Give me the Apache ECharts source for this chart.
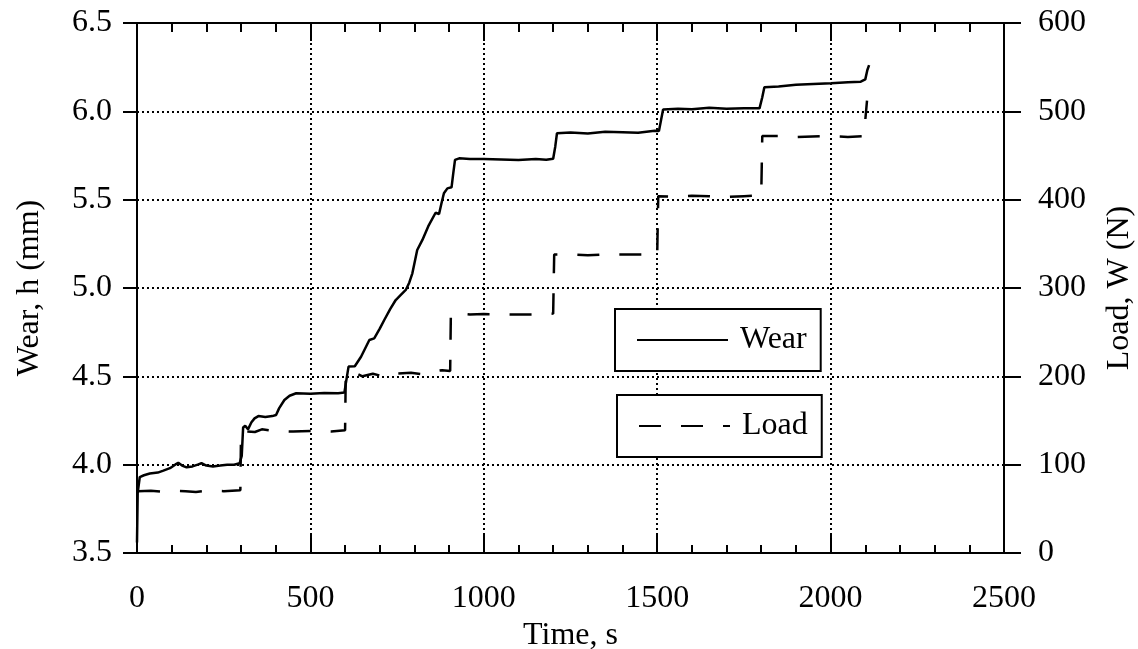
<!DOCTYPE html>
<html>
<head>
<meta charset="utf-8">
<script src="https://cdn.jsdelivr.net/npm/echarts@6/dist/echarts.min.js"></script>
<style>
html,body{margin:0;padding:0;background:#fff;}
#chart{width:1138px;height:649px;}
</style>
</head>
<body>
<div id="chart"></div>
<script>
// Wear, h (mm) vs Time, s
var wearTime = [0,2,8,20,37,60,76,95,110,119,130,143,160,175,186,200,219,240,260,280,296,
  302,306,312,320,330,339,350,370,390,401,410,425,440,459,500,540,580,598,
  603,610,628,646,670,684,700,713,730,746,760,775,785,794,808,823,840,861,871,878,885,895,907,912,917,929,
  960,1000,1050,1100,1150,1180,1200,
  1206,1211,1250,1300,1350,1400,1445,1493,1505,
  1511,1517,1560,1600,1650,1700,1750,1795,
  1803,1809,1850,1900,1950,2001,2050,2087,2100,2106,2111];
var wearValues = [3.56,3.84,3.93,3.94,3.95,3.955,3.966,3.98,4.0,4.011,3.995,3.985,3.99,4.0,4.008,3.995,3.99,3.995,4.0,4.0,4.008,
  4.05,4.21,4.22,4.2,4.24,4.262,4.275,4.27,4.275,4.281,4.32,4.366,4.39,4.404,4.402,4.405,4.404,4.408,
  4.47,4.555,4.557,4.611,4.706,4.715,4.77,4.819,4.88,4.932,4.96,4.989,5.03,5.083,5.215,5.272,5.35,5.426,5.419,5.48,5.536,5.564,5.57,5.65,5.725,5.734,
  5.73,5.73,5.728,5.725,5.73,5.726,5.732,
  5.8,5.876,5.88,5.875,5.885,5.882,5.879,5.89,5.888,
  5.95,6.011,6.015,6.012,6.02,6.015,6.018,6.017,
  6.08,6.136,6.14,6.15,6.155,6.159,6.165,6.168,6.181,6.234,6.262];

// Load, W (N) vs Time, s
var loadTime = [3,40,70,100,140,170,200,250,298,
  300,340,360,400,450,500,560,600,
  602,630,650,680,700,720,750,790,830,860,880,903,
  905,930,960,1000,1100,1150,1200,
  1203,1250,1300,1350,1400,1500,
  1503,1560,1600,1650,1700,1750,1800,
  1803,1850,1900,2000,2050,2098,
  2100,2105];
var loadValues = [70,70.5,69.5,70.5,70,69,70.5,70,71,
  138,137,140,138,137.5,138,137.5,139,
  203,204,200,203,201,205,203,204,202,206,207,206,
  270,271,270,270.5,270,270,271,
  338,338,337,338,338,338,
  404,403,404.5,404,403,404,405,
  472,472,471,472,471,472,
  490,512];

var xTicks = [0,500,1000,1500,2000,2500];
var wearTicks = [3.5,4.0,4.5,5.0,5.5,6.0,6.5];
var loadTicks = [0,100,200,300,400,500,600];

function zip(a,b){var r=[];for(var i=0;i<a.length;i++){r.push([a[i],b[i]]);}return r;}

var FONT = '"Liberation Serif","Times New Roman",serif';
var chart = echarts.init(document.getElementById('chart'), null, {renderer:'canvas'});
var legendCommon = {orient:'vertical', backgroundColor:'#fff', borderColor:'#000', borderWidth:2,
  padding:[15,14,15,21], itemWidth:91, itemHeight:14, borderRadius:0,
  itemStyle:{opacity:0},
  textStyle:{fontFamily:FONT, fontSize:32, color:'#000', padding:[0,0,0,7]}};
var option = {
  animation:false,
  backgroundColor:'#fff',
  grid:{left:137, right:134, top:23, bottom:96, outerBoundsMode:'none', containLabel:false},
  legend:[
    Object.assign({data:['Wear'], left:615, top:309}, legendCommon),
    Object.assign({data:['Load'], left:617, top:395}, legendCommon)
  ],
  xAxis:[
    {type:'value', position:'bottom', min:xTicks[0], max:xTicks[xTicks.length-1], interval:500,
     name:'Time, s', nameLocation:'middle', nameGap:59,
     nameTextStyle:{fontFamily:FONT, fontSize:32, color:'#000'},
     axisLine:{show:true, onZero:false, lineStyle:{color:'#000', width:2}},
     axisTick:{show:true, inside:true, length:18, lineStyle:{color:'#000', width:2}},
     minorTick:{show:true, splitNumber:5, length:8, lineStyle:{color:'#000', width:2}},
     axisLabel:{fontFamily:FONT, fontSize:32, color:'#000', margin:30, formatter:function(v){return String(v);}},
     splitLine:{show:true, lineStyle:{color:'#000', width:2, type:[2,3]}}},
    {type:'value', position:'top', min:xTicks[0], max:xTicks[xTicks.length-1], interval:500,
     axisLine:{show:true, onZero:false, lineStyle:{color:'#000', width:2}},
     axisTick:{show:true, inside:true, length:18, lineStyle:{color:'#000', width:2}},
     minorTick:{show:true, splitNumber:5, length:9, lineStyle:{color:'#000', width:2}},
     axisLabel:{show:false}, splitLine:{show:false}}
  ],
  yAxis:[
    {type:'value', position:'left', min:wearTicks[0], max:wearTicks[wearTicks.length-1], interval:0.5,
     name:'Wear, h (mm)', nameLocation:'middle', nameGap:91,
     nameTextStyle:{fontFamily:FONT, fontSize:32, color:'#000'},
     axisLine:{show:true, onZero:false, lineStyle:{color:'#000', width:2}},
     axisTick:{show:true, inside:false, length:14, lineStyle:{color:'#000', width:2}},
     axisLabel:{fontFamily:FONT, fontSize:32, color:'#000', margin:25, formatter:function(v){return v.toFixed(1);}},
     splitLine:{show:true, lineStyle:{color:'#000', width:2, type:[2,3]}}},
    {type:'value', position:'right', min:loadTicks[0], max:loadTicks[loadTicks.length-1], interval:100,
     name:'Load, W (N)', nameLocation:'middle', nameGap:100,
     nameTextStyle:{fontFamily:FONT, fontSize:32, color:'#000'},
     axisLine:{show:true, onZero:false, lineStyle:{color:'#000', width:2}},
     axisTick:{show:true, inside:false, length:17, lineStyle:{color:'#000', width:2}},
     axisLabel:{fontFamily:FONT, fontSize:32, color:'#000', margin:34},
     splitLine:{show:false}}
  ],
  series:[
    {name:'Wear', type:'line', xAxisIndex:0, yAxisIndex:0, data:zip(wearTime, wearValues),
     showSymbol:false, symbol:'none', smooth:false, color:'#000',
     lineStyle:{color:'#000', width:2.5}},
    {name:'Load', type:'line', xAxisIndex:0, yAxisIndex:1, data:zip(loadTime, loadValues),
     showSymbol:false, symbol:'none', smooth:false, color:'#000',
     lineStyle:{color:'#000', width:2.5, type:[22,20]}}
  ]
};
chart.setOption(option);
</script>
</body>
</html>
